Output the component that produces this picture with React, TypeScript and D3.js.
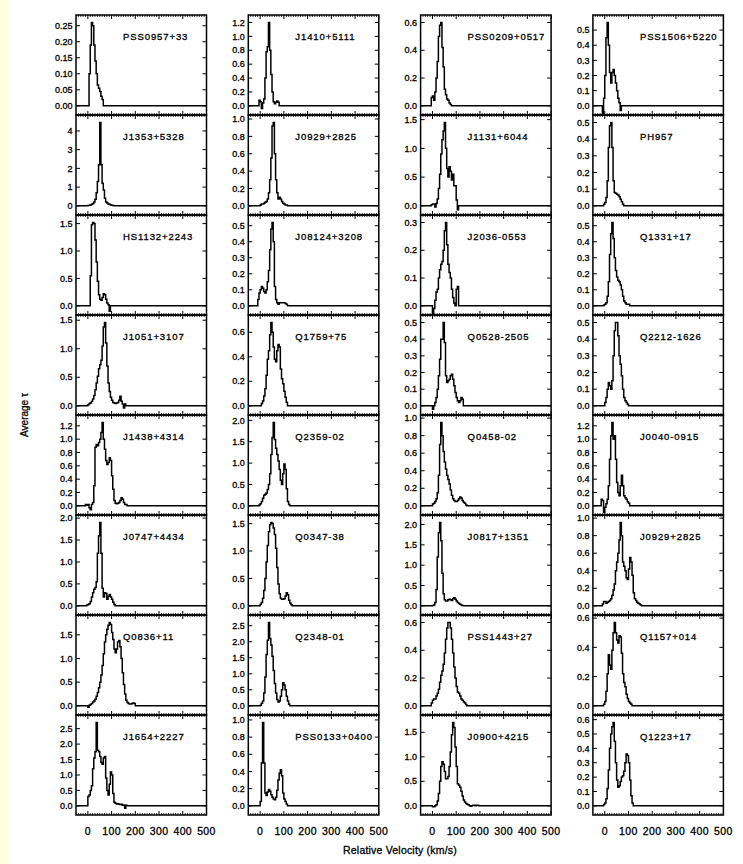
import React from "react";
import * as d3 from "d3";

// Page and panel geometry
const WIDTH = 743;
const HEIGHT = 864;
const FRAME_LEFT = 76;
const COL_PITCH = 172.3;
const FRAME_W = 130.5;
const FRAME_TOP = 15;
const ROW_H = 100;
const N_ROWS = 8;
const BIN = 5; // km/s per velocity channel
const VEL_DOMAIN: [number, number] = [-50, 500];
const FONT = "'Liberation Sans', Arial, Helvetica, sans-serif";
const TEXT_STROKE = 0.3;

const velocityTicks = [0, 100, 200, 300, 400, 500];
const velocityMinorStep = 10;

// Quasar names, column by column (top to bottom)
const quasarNames = [
  "PSS0957+33", "J1353+5328", "HS1132+2243", "J1051+3107", "J1438+4314", "J0747+4434", "Q0836+11", "J1654+2227",
  "J1410+5111", "J0929+2825", "J08124+3208", "Q1759+75", "Q2359-02", "Q0347-38", "Q2348-01", "PSS0133+0400",
  "PSS0209+0517", "J1131+6044", "J2036-0553", "Q0528-2505", "Q0458-02", "J0817+1351", "PSS1443+27", "J0900+4215",
  "PSS1506+5220", "PH957", "Q1331+17", "Q2212-1626", "J0040-0915", "J0929+2825", "Q1157+014", "Q1223+17",
];

// Major tick spacing of the optical-depth axis in each panel
const tauTickStep = [
  0.05, 1, 0.5, 0.5, 0.2, 0.5, 0.5, 0.5,
  0.2, 0.2, 0.1, 0.2, 0.5, 0.5, 0.5, 0.2,
  0.2, 0.5, 0.1, 0.1, 0.2, 0.5, 0.2, 0.5,
  0.1, 0.1, 0.1, 0.1, 0.2, 0.2, 0.2, 0.1,
];

// Velocity (km/s) of the first channel of each profile
const startVelocity = [
  5, 0, 10, 0, -10, -5, 0, 0,
  -10, 0, -10, 5, -5, 0, 0, 0,
  -5, -5, 0, 0, 0, 0, -5, 0,
  -10, -5, -5, 0, -15, -10, -5, -5,
];

// Apparent optical depth per 5 km/s channel
const tauColumn1 = [
  [0.10, 0.19, 0.26, 0.25, 0.19, 0.14, 0.10, 0.065, 0.055, 0.045, 0.03, 0.02, 0],
  [0.02, 0.03, 0.05, 0.08, 0.12, 0.2, 0.35, 0.7, 1.3, 2.2, 4.45, 2.2, 1.2, 0.85, 0.4, 0.2, 0.15, 0.1, 0.08, 0.05, 0.03, 0.02, 0],
  [0.55, 1.48, 1.52, 1.5, 1.2, 0.8, 0.45, 0.2, 0.12, 0.1, 0.15, 0.22, 0.2, 0.12, 0.05, 0.02, -0.1, 0],
  [0.02, 0.04, 0.05, 0.08, 0.12, 0.18, 0.28, 0.4, 0.52, 0.65, 0.72, 0.8, 1.05, 1.38, 1.46, 1.1, 0.7, 0.4, 0.25, 0.15, 0.1, 0.06, 0.05, 0.04, 0.05, 0.06, 0.1, 0.17, 0.08, 0.03, -0.04, 0.03, 0],
  [0.02, 0.01, 0.02, -0.03, -0.06, 0.02, 0.05, 0.3, 0.88, 0.92, 0.9, 0.95, 1.0, 1.1, 1.25, 1.0, 0.85, 0.68, 0.62, 0.65, 0.72, 0.68, 0.45, 0.25, 0.08, 0.04, 0.03, 0.04, 0.05, 0.08, 0.12, 0.1, 0.05, 0.02, 0.02, 0],
  [0.02, 0.03, 0.05, 0.1, 0.2, 0.3, 0.38, 0.42, 0.55, 1.2, 1.6, 1.9, 1.2, 0.4, 0.2, 0.3, 0.28, 0.15, 0.22, 0.26, 0.2, 0.15, 0.08, 0.03, 0],
  [-0.03, 0.01, 0.03, 0.05, 0.08, 0.1, 0.14, 0.2, 0.28, 0.38, 0.5, 0.65, 0.85, 1.1, 1.35, 1.5, 1.62, 1.7, 1.76, 1.72, 1.55, 1.4, 1.2, 1.12, 1.2, 1.35, 1.38, 1.25, 1.0, 0.7, 0.45, 0.25, 0.12, 0.07, 0.05, 0.04, 0.04, 0.05, 0.06, 0.05, 0],
  [0.3, 0.35, 0.5, 0.65, 1.2, 1.55, 1.75, 2.7, 1.8, 1.75, 1.6, 1.4, 1.35, 1.55, 1.6, 0.9, 0.5, 0.35, 0.7, 1.1, 1.0, 0.4, 0.12, 0.08, 0.06, 0.07, 0.05, 0.04, 0.05, 0.02, 0.03, -0.08, 0.02, 0],
];

const tauColumn2 = [
  [0.0, 0.08, 0.06, -0.04, 0.04, 0.1, 0.4, 0.78, 0.85, 1.2, 0.8, 0.45, 0.2, 0.06, 0.03, 0.05, 0.07, 0.05, 0],
  [0.01, 0.02, 0.02, 0.03, 0.04, 0.05, 0.08, 0.15, 0.3, 0.55, 0.92, 0.96, 0.6, 0.3, 0.15, 0.08, 0.1, 0.08, 0.05, 0.03, 0.02, 0.01, 0.01, 0],
  [0.04, 0.08, 0.1, 0.12, 0.11, 0.09, 0.08, 0.1, 0.15, 0.22, 0.35, 0.48, 0.52, 0.4, 0.12, 0.04, 0.02, 0.01, 0.02, 0.02, 0.02, 0.02, 0.02, 0.015, 0.01, 0],
  [0.02, 0.04, 0.08, 0.14, 0.25, 0.38, 0.45, 0.58, 0.68, 0.6, 0.48, 0.38, 0.36, 0.45, 0.5, 0.48, 0.3, 0.22, 0.18, 0.12, 0.07, 0.03, 0],
  [0.02, 0.05, 0.1, 0.18, 0.25, 0.27, 0.3, 0.38, 0.5, 0.75, 1.2, 1.6, 1.95, 1.55, 1.35, 1.2, 1.05, 0.85, 0.6, 0.5, 0.75, 0.98, 0.85, 0.4, 0.1, 0.03, 0],
  [0.03, 0.06, 0.14, 0.28, 0.5, 0.8, 1.1, 1.35, 1.48, 1.52, 1.5, 1.42, 1.3, 1.05, 0.7, 0.4, 0.22, 0.14, 0.12, 0.12, 0.13, 0.18, 0.24, 0.2, 0.1, 0.05, 0.02, 0],
  [0.02, 0.08, 0.15, 0.4, 0.9, 1.6, 2.05, 2.6, 2.1, 1.9, 1.55, 1.1, 0.7, 0.4, 0.2, 0.12, 0.15, 0.3, 0.5, 0.72, 0.65, 0.5, 0.3, 0.15, 0.05, 0],
  [0.05, 0.5, 0.97, 0.5, 0.15, 0.12, 0.16, 0.19, 0.17, 0.13, 0.1, 0.08, 0.07, 0.1, 0.18, 0.3, 0.38, 0.42, 0.35, 0.15, 0.08, 0.05, 0.02, 0],
];

const tauColumn3 = [
  [0.06, 0.07, 0.04, 0.1, 0.2, 0.32, 0.5, 0.58, 0.6, 0.42, 0.28, 0.12, 0.08, 0.05, 0.04, 0.02, 0.01, 0],
  [0.02, 0.03, 0.03, -0.02, 0.04, 0.12, 0.3, 0.55, 0.9, 1.15, 1.3, 1.45, 1.0, 0.65, 0.5, 0.68, 0.6, 0.45, 0.55, 0.35, 0.35, 0.1, -0.07, 0],
  [-0.03, -0.01, 0.02, 0.05, 0.06, 0.1, 0.13, 0.15, 0.16, 0.2, 0.27, 0.3, 0.22, 0.15, 0.12, 0.1, 0.06, 0.03, 0.01, 0.0, 0.06, 0.07, 0],
  [-0.02, 0.0, 0.02, 0.05, 0.1, 0.18, 0.28, 0.4, 0.4, 0.5, 0.38, 0.18, 0.14, 0.15, 0.16, 0.18, 0.19, 0.16, 0.12, 0.08, 0.05, 0.03, 0.02, 0.03, 0.05, 0.04, 0],
  [0.02, 0.03, 0.05, 0.08, 0.15, 0.35, 0.7, 0.95, 0.8, 0.62, 0.5, 0.42, 0.35, 0.3, 0.25, 0.18, 0.12, 0.08, 0.06, 0.05, 0.05, 0.06, 0.08, 0.1, 0.09, 0.06, 0.04, 0.03, 0.01, 0],
  [0.01, 0.02, 0.08, 0.4, 1.2, 1.8, 2.05, 1.6, 0.8, 0.3, 0.15, 0.12, 0.12, 0.15, 0.16, 0.15, 0.13, 0.18, 0.2, 0.16, 0.12, 0.08, 0.06, 0.04, 0.02, 0.01, 0],
  [0.02, 0.04, 0.05, 0.05, 0.07, 0.09, 0.12, 0.17, 0.22, 0.25, 0.3, 0.38, 0.48, 0.56, 0.6, 0.6, 0.56, 0.48, 0.38, 0.28, 0.2, 0.14, 0.1, 0.09, 0.07, 0.05, 0.04, 0.03, 0.02, 0.01, 0],
  [-0.02, -0.02, 0.0, 0.02, 0.1, 0.25, 0.5, 0.8, 0.9, 0.85, 0.7, 0.55, 0.55, 0.6, 0.8, 1.1, 1.45, 1.7, 1.6, 1.2, 0.8, 0.45, 0.42, 0.38, 0.3, 0.2, 0.12, 0.08, 0.05, 0.03, 0.02, 0.0, -0.01, 0.0, 0.01, 0.01, 0.0, 0.01, 0.01, 0],
];

const tauColumn4 = [
  [-0.05, 0.05, 0.2, 0.45, 0.55, 0.4, 0.22, 0.15, 0.22, 0.24, 0.2, 0.15, 0.1, 0.05, 0.02, -0.03, 0],
  [0.01, 0.02, 0.05, 0.15, 0.35, 0.48, 0.5, 0.35, 0.15, 0.08, 0.075, 0.07, 0.065, 0.055, 0.04, 0.025, 0.01, 0],
  [0.005, 0.01, 0.02, 0.06, 0.15, 0.32, 0.45, 0.52, 0.42, 0.3, 0.22, 0.18, 0.16, 0.15, 0.13, 0.1, 0.06, 0.03, 0.02, 0.01, 0.01, 0.01, 0],
  [0.02, 0.05, 0.1, 0.14, 0.12, 0.1, 0.15, 0.3, 0.45, 0.5, 0.5, 0.42, 0.3, 0.25, 0.18, 0.1, 0.05, 0.03, 0.02, 0.01, 0],
  [0.1, 0.08, -0.1, -0.02, 0.03, 0.1, 0.3, 0.7, 1.05, 1.25, 1.0, 1.05, 0.7, 0.35, 0.2, 0.15, 0.3, 0.46, 0.3, 0.15, 0.12, 0.1, 0.06, 0.04, 0],
  [0.02, 0.05, 0.05, 0.03, 0.04, 0.05, 0.06, 0.08, 0.12, 0.18, 0.25, 0.4, 0.5, 0.6, 0.75, 0.95, 0.8, 0.5, 0.45, 0.4, 0.32, 0.3, 0.42, 0.55, 0.5, 0.35, 0.15, 0.08, 0.06, 0.04, 0.03, 0.02, 0.01, 0],
  [0.01, 0.03, 0.1, 0.22, 0.35, 0.28, 0.25, 0.38, 0.5, 0.57, 0.5, 0.45, 0.43, 0.48, 0.47, 0.36, 0.22, 0.16, 0.13, 0.08, 0.05, 0.03, 0.02, 0.01, 0],
  [0.01, 0.02, 0.05, 0.12, 0.25, 0.4, 0.5, 0.55, 0.58, 0.45, 0.3, 0.18, 0.13, 0.14, 0.17, 0.2, 0.21, 0.24, 0.3, 0.36, 0.35, 0.3, 0.18, 0.07, 0.02, 0],
];

const tauProfiles = [...tauColumn1, ...tauColumn2, ...tauColumn3, ...tauColumn4];

function decimalsFor(step: number): number {
  if (step >= 1) return 0;
  if (step < 0.1) return 2;
  return 1;
}

function Panel({ index }: { index: number }) {
  const col = Math.floor(index / N_ROWS);
  const row = index % N_ROWS;
  const left = FRAME_LEFT + col * COL_PITCH;
  const top = FRAME_TOP + row * ROW_H;
  const right = left + FRAME_W;
  const bottom = top + ROW_H;

  const values = tauProfiles[index];
  const v0 = startVelocity[index];
  const peak = d3.max(values) as number;

  const x = d3.scaleLinear().domain(VEL_DOMAIN).range([left, right]);
  const y = d3.scaleLinear().domain([-0.11 * peak, 1.09 * peak]).range([bottom, top]);

  const points: [number, number][] = [[VEL_DOMAIN[0], 0]];
  values.forEach((t, i) => points.push([v0 + i * BIN, t]));
  points.push([v0 + values.length * BIN, 0]);
  points.push([VEL_DOMAIN[1], 0]);

  const line = d3
    .line<[number, number]>()
    .x((d) => x(d[0]))
    .y((d) => y(d[1]))
    .curve(d3.curveStepAfter);

  const step = tauTickStep[index];
  const yMax = y.domain()[1];
  const nTicks = Math.floor(yMax / step + 1e-6);
  const yTicks = d3.range(0, nTicks + 1).map((i) => +(i * step).toFixed(4));
  const digits = decimalsFor(step);

  const minorX = d3
    .range(VEL_DOMAIN[0], VEL_DOMAIN[1] + 1, velocityMinorStep)
    .filter((v) => !velocityTicks.includes(v) && v > VEL_DOMAIN[0]);

  const clipId = `clip-${index}`;
  const majLen = 4;
  const minLen = 2;

  return (
    <g>
      <defs>
        <clipPath id={clipId}>
          <rect x={left} y={top} width={FRAME_W} height={ROW_H} />
        </clipPath>
      </defs>
      <path d={line(points) ?? ""} fill="none" stroke="#000" strokeWidth={1.5} clipPath={`url(#${clipId})`} />

      {/* velocity ticks on bottom and top edges */}
      {velocityTicks.map((v) => (
        <g key={`M${v}`} stroke="#000" strokeWidth={1}>
          <line x1={x(v)} x2={x(v)} y1={bottom} y2={bottom - majLen} />
          <line x1={x(v)} x2={x(v)} y1={top} y2={top + majLen} />
        </g>
      ))}
      {minorX.map((v) => (
        <g key={`m${v}`} stroke="#000" strokeWidth={0.8}>
          <line x1={x(v)} x2={x(v)} y1={bottom} y2={bottom - minLen} />
          <line x1={x(v)} x2={x(v)} y1={top} y2={top + minLen} />
        </g>
      ))}

      {/* optical-depth ticks on left and right edges */}
      {yTicks.map((t) => (
        <g key={`y${t}`}>
          <line x1={left} x2={left + majLen} y1={y(t)} y2={y(t)} stroke="#000" strokeWidth={1} />
          <line x1={right} x2={right - majLen} y1={y(t)} y2={y(t)} stroke="#000" strokeWidth={1} />
          <text
            x={left - 3.5}
            y={y(t)}
            dy="0.35em"
            textAnchor="end"
            fontSize={9}
            fontFamily={FONT}
            fill="#000"
            stroke="#000"
            strokeWidth={TEXT_STROKE}
          >
            {t.toFixed(digits)}
          </text>
        </g>
      ))}

      <rect x={left} y={top} width={FRAME_W} height={ROW_H} fill="none" stroke="#000" strokeWidth={1.5} />

      <text
        x={left + 47}
        y={top + 25}
        fontSize={9.5}
        letterSpacing={0.9}
        fontFamily={FONT}
        fill="#000"
        stroke="#000"
        strokeWidth={TEXT_STROKE}
      >
        {quasarNames[index]}
      </text>

      {row === N_ROWS - 1 &&
        velocityTicks.map((v) => (
          <text
            key={`xl${v}`}
            x={x(v)}
            y={bottom + 20}
            textAnchor="middle"
            fontSize={10.5}
            letterSpacing={0.4}
            fontFamily={FONT}
            fill="#000"
            stroke="#000"
            strokeWidth={TEXT_STROKE}
          >
            {v}
          </text>
        ))}
    </g>
  );
}

export default function App() {
  const panelIndex = d3.range(quasarNames.length);
  const midY = FRAME_TOP + (N_ROWS * ROW_H) / 2;
  return (
    <svg
      width={WIDTH}
      height={HEIGHT}
      style={{ position: "absolute", left: 0, top: 0, display: "block" }}
    >
      <rect x={0} y={0} width={WIDTH} height={HEIGHT} fill="#ffffff" />
      <rect x={0} y={0} width={8} height={HEIGHT} fill="#ffffe0" />
      {panelIndex.map((i) => (
        <Panel key={i} index={i} />
      ))}
      <text
        transform={`translate(28, ${midY}) rotate(-90)`}
        textAnchor="middle"
        fontSize={10}
        fontFamily={FONT}
        fill="#000"
        stroke="#000"
        strokeWidth={TEXT_STROKE}
      >
        Average τ
      </text>
      <text
        x={400}
        y={854}
        textAnchor="middle"
        fontSize={10.5}
        letterSpacing={0.2}
        fontFamily={FONT}
        fill="#000"
        stroke="#000"
        strokeWidth={TEXT_STROKE}
      >
        Relative Velocity (km/s)
      </text>
    </svg>
  );
}
